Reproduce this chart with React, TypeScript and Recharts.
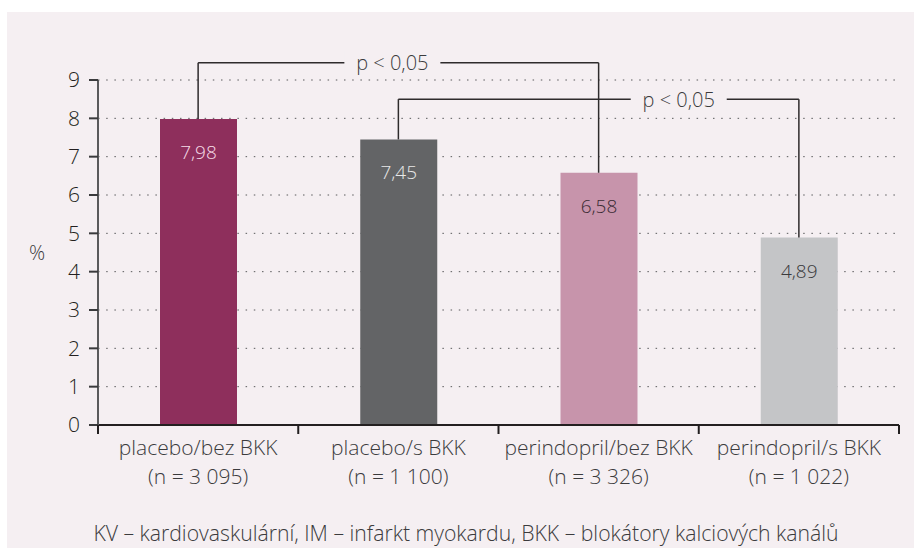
import React from "react";
import { Bar, BarChart, CartesianGrid, Cell, LabelList, ReferenceLine, XAxis, YAxis } from "recharts";

const CATEGORIES = ["placebo/bez BKK", "placebo/s BKK", "perindopril/bez BKK", "perindopril/s BKK"];
const SAMPLE_SIZES = ["(n = 3 095)", "(n = 1 100)", "(n = 3 326)", "(n = 1 022)"];
const VALUES = [7.98, 7.45, 6.58, 4.89];
const Y_TICKS = [0, 1, 2, 3, 4, 5, 6, 7, 8, 9];
const X_TICKS = [-0.5, 0, 0.5, 1, 1.5, 2, 2.5, 3, 3.5];

const BAR_COLORS = ["#8e2f5c", "#636466", "#c794ab", "#c4c5c7"];
const LABEL_COLORS = ["#f5dce7", "#e8e8e8", "#3a2b33", "#3a3a3c"];

// significance brackets: from bar -> to bar, drawn at level (in %)
const BRACKETS = [
  { from: 0, to: 2, level: 9.45, text: "p < 0,05", at: 0.485 },
  { from: 1, to: 3, level: 8.5, text: "p < 0,05", at: 0.7 }
];

const FOOTNOTE = "KV – kardiovaskulární, IM – infarkt myokardu, BKK – blokátory kalciových kanálů";

const BG = "#f5eff2";
const INK = "#231f20";
const FONT = '"Open Sans", sans-serif';
const WEIGHT = 300;

const data = CATEGORIES.map((name, i) => ({ idx: i, name, value: VALUES[i] }));

function CategoryTick({ x, y, payload }: any) {
  const v = payload.value as number;
  if (!Number.isInteger(v)) {
    return <line x1={x} x2={x} y1={y} y2={y + 9} stroke={INK} strokeWidth={2} />;
  }
  return (
    <text x={x} y={y} textAnchor="middle" fill="#3b3b3d" fontSize={21} fontWeight={WEIGHT} fontFamily={FONT}>
      <tspan x={x} dy={30}>{CATEGORIES[v]}</tspan>
      <tspan x={x} dy={29}>{SAMPLE_SIZES[v]}</tspan>
    </text>
  );
}

function ValueLabel({ x, y, width, value, index }: any) {
  return (
    <text
      x={x + width / 2}
      y={y + 33}
      textAnchor="middle"
      dominantBaseline="central"
      fill={LABEL_COLORS[index]}
      fontSize={19}
      fontWeight={WEIGHT}
      fontFamily={FONT}
    >
      {Number(value).toFixed(2).replace(".", ",")}
    </text>
  );
}

function bracketLabel(text: string, at: number) {
  return ({ viewBox }: any) => {
    const cx = viewBox.x + viewBox.width * at;
    const cy = viewBox.y;
    return (
      <g>
        <rect x={cx - 48} y={cy - 12} width={96} height={24} fill={BG} />
        <text
          x={cx}
          y={cy}
          textAnchor="middle"
          dominantBaseline="central"
          fill="#3b3b3d"
          fontSize={20}
          fontWeight={WEIGHT}
          fontFamily={FONT}
        >
          {text}
        </text>
      </g>
    );
  };
}

export default function App() {
  return (
    <div style={{ position: "absolute", left: 0, top: 0, width: 914, height: 549, background: "#fff", fontFamily: FONT }}>
      <div style={{ position: "absolute", left: 7, top: 12, width: 907, height: 536, background: BG }} />
      <div style={{ position: "absolute", left: 0, top: 0 }}>
        <BarChart width={914} height={549} data={data} margin={{ top: 80, right: 15, left: 0, bottom: 0 }}>
          <CartesianGrid vertical={false} stroke="#58595b" strokeDasharray="1.5 6.7" />
          <XAxis
            dataKey="idx"
            type="number"
            domain={[-0.5, 3.5]}
            ticks={X_TICKS}
            interval={0}
            height={124}
            tickSize={0}
            tickMargin={0}
            tickLine={false}
            axisLine={{ stroke: INK, strokeWidth: 2 }}
            tick={<CategoryTick />}
          />
          <YAxis
            type="number"
            domain={[0, 9]}
            ticks={Y_TICKS}
            interval={0}
            width={98}
            tickSize={9}
            tickMargin={9}
            axisLine={{ stroke: "#5a5a5c", strokeWidth: 2 }}
            tickLine={{ stroke: "#3a3a3c", strokeWidth: 2 }}
            tick={{ fill: INK, fontSize: 21, fontWeight: WEIGHT, fontFamily: FONT }}
            label={{
              value: "%",
              position: "insideLeft",
              offset: 29,
              fill: "#3b3b3d",
              fontSize: 20,
              fontWeight: WEIGHT,
              fontFamily: FONT
            }}
          />
          <Bar dataKey="value" barSize={77} isAnimationActive={false}>
            {data.map((d, i) => (
              <Cell key={d.name} fill={BAR_COLORS[i]} />
            ))}
            <LabelList dataKey="value" content={<ValueLabel />} />
          </Bar>
          {BRACKETS.map((b) => (
            <ReferenceLine
              key={`l${b.from}`}
              ifOverflow="visible"
              stroke="#2e2b2c"
              strokeWidth={1.5}
              segment={[
                { x: b.from, y: VALUES[b.from] },
                { x: b.from, y: b.level }
              ]}
            />
          ))}
          {BRACKETS.map((b) => (
            <ReferenceLine
              key={`r${b.to}`}
              ifOverflow="visible"
              stroke="#2e2b2c"
              strokeWidth={1.5}
              segment={[
                { x: b.to, y: VALUES[b.to] },
                { x: b.to, y: b.level }
              ]}
            />
          ))}
          {BRACKETS.map((b) => (
            <ReferenceLine
              key={`h${b.from}`}
              ifOverflow="visible"
              stroke="#2e2b2c"
              strokeWidth={1.5}
              segment={[
                { x: b.from, y: b.level },
                { x: b.to, y: b.level }
              ]}
              label={{ content: bracketLabel(b.text, b.at) }}
            />
          ))}
        </BarChart>
      </div>
      <div
        style={{
          position: "absolute",
          left: 20,
          width: 892,
          top: 520,
          lineHeight: "26px",
          textAlign: "center",
          fontSize: 21.2,
          fontWeight: WEIGHT,
          color: "#3b3b3d"
        }}
      >
        {FOOTNOTE}
      </div>
    </div>
  );
}
